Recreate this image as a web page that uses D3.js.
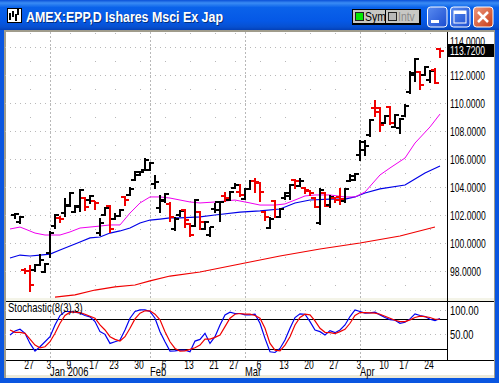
<!DOCTYPE html>
<html><head><meta charset="utf-8">
<script src="https://cdn.jsdelivr.net/npm/d3@7"></script>
<style>html,body{margin:0;padding:0;background:#fff}svg{display:block}text{font-family:"Liberation Sans",Arial,sans-serif}</style>
</head><body><svg id="c" width="499" height="383"></svg>
<script>
const dates=["2005-12-21","2005-12-22","2005-12-23","2005-12-27","2005-12-28","2005-12-29","2005-12-30","2006-01-03","2006-01-04","2006-01-05","2006-01-06","2006-01-09","2006-01-10","2006-01-11","2006-01-12","2006-01-13","2006-01-17","2006-01-18","2006-01-19","2006-01-20","2006-01-23","2006-01-24","2006-01-25","2006-01-26","2006-01-27","2006-01-30","2006-01-31","2006-02-01","2006-02-02","2006-02-03","2006-02-06","2006-02-07","2006-02-08","2006-02-09","2006-02-10","2006-02-13","2006-02-14","2006-02-15","2006-02-16","2006-02-17","2006-02-21","2006-02-22","2006-02-23","2006-02-24","2006-02-27","2006-02-28","2006-03-01","2006-03-02","2006-03-03","2006-03-06","2006-03-07","2006-03-08","2006-03-09","2006-03-10","2006-03-13","2006-03-14","2006-03-15","2006-03-16","2006-03-17","2006-03-20","2006-03-21","2006-03-22","2006-03-23","2006-03-24","2006-03-27","2006-03-28","2006-03-29","2006-03-30","2006-03-31","2006-04-03","2006-04-04","2006-04-05","2006-04-06","2006-04-07","2006-04-10","2006-04-11","2006-04-12","2006-04-13","2006-04-17","2006-04-18","2006-04-19","2006-04-20","2006-04-21","2006-04-24","2006-04-25","2006-04-26"];
const highs=[102.14,101.93,98.21,98.43,98.50,99.21,98.57,100.86,102.07,101.93,103.21,103.64,102.71,103.86,103.29,103.43,103.00,101.79,102.57,102.71,102.14,102.43,103.36,104.00,105.14,105.14,106.07,105.79,104.86,103.43,103.57,102.93,101.86,102.36,102.43,101.43,103.14,102.29,101.57,101.14,102.86,103.00,103.64,103.71,104.29,104.21,103.93,104.50,104.64,104.36,102.29,101.86,103.07,102.50,103.64,104.21,104.57,104.64,104.00,103.79,103.29,103.93,103.64,103.43,103.29,103.93,103.93,104.93,105.00,107.36,107.36,108.86,110.21,109.71,109.14,109.79,109.21,108.93,109.93,112.29,113.21,112.29,112.64,112.36,112.50,113.93];
const lows=[101.71,101.36,97.79,96.50,97.93,98.36,97.86,98.93,101.00,101.43,101.86,102.57,102.14,102.21,102.29,102.79,102.36,100.50,101.93,100.71,101.64,101.86,102.64,103.36,104.43,104.79,105.14,105.14,103.86,102.14,102.86,101.50,100.86,101.86,101.07,100.43,101.14,100.93,100.93,100.43,102.14,101.50,102.93,103.00,103.86,103.29,103.07,103.79,103.57,102.93,101.57,101.00,101.79,101.79,103.07,103.07,103.86,104.00,103.50,103.36,102.50,101.29,102.57,102.50,102.86,102.71,102.86,104.36,104.43,105.86,106.21,107.57,109.00,107.93,108.50,108.43,108.21,107.79,109.00,110.64,111.50,110.93,111.93,111.43,111.36,113.21];
const opens=[102.00,101.50,98.07,98.00,98.07,98.43,97.93,99.29,101.21,101.79,102.14,102.64,102.21,102.57,103.21,103.07,103.00,100.71,102.00,102.64,101.71,101.93,103.29,103.43,104.50,104.86,105.21,105.21,104.21,102.50,103.07,102.79,101.00,102.00,102.36,101.36,101.21,102.21,101.00,100.57,102.43,102.36,103.36,103.07,103.93,103.64,103.14,103.86,104.43,104.29,102.21,101.07,103.00,101.86,103.21,103.36,104.50,104.07,103.93,103.71,103.21,101.43,103.57,102.71,103.21,103.29,103.00,104.43,104.50,106.29,106.64,107.71,109.64,109.64,108.57,109.71,108.29,108.21,109.07,110.79,112.00,112.21,112.00,111.64,112.36,113.86];
const closes=[102.07,101.86,98.00,97.00,98.43,98.79,98.50,100.71,102.00,101.71,102.71,103.57,102.64,103.79,102.57,103.36,102.86,101.43,102.50,101.00,101.93,102.36,103.07,103.86,105.07,105.07,105.93,105.71,104.36,103.00,103.50,101.86,101.71,102.29,101.64,100.57,103.07,101.50,101.50,101.14,102.93,102.93,103.21,103.64,104.14,103.43,103.86,104.43,104.36,103.64,101.86,101.71,101.86,102.43,103.57,104.14,104.43,104.43,103.79,103.57,102.57,103.79,102.64,103.29,103.07,103.14,103.86,104.79,104.93,107.21,106.93,108.79,109.36,108.43,109.07,108.57,109.14,108.86,109.79,112.14,113.14,111.29,112.57,112.29,111.43,113.72];
const magentaIdx=[-1,1,2,4,6,9,11,13,15,17,19,21,23,25,27,29,31,33,35,37,40,44,47,49,52,54,56,58,60,63,66,68,70,73,75,78,80,83,85];
const magentaVal=[101.00,101.14,101.00,100.71,100.57,100.57,100.79,101.07,101.14,101.21,101.29,101.29,102.14,102.86,103.29,103.29,103.21,103.07,102.93,102.86,102.93,103.07,102.86,102.71,102.71,102.79,103.07,103.36,103.43,103.43,103.29,103.29,103.64,104.86,105.36,106.07,107.14,108.29,109.21];
const blueIdx=[-1,1,3,5,7,9,11,13,15,17,19,21,23,25,27,29,31,33,37,40,45,49,53,56,59,63,66,68,70,73,78,79,82,85];
const blueVal=[98.93,99.14,99.07,99.14,99.21,99.50,99.79,100.07,100.36,100.43,100.71,100.86,101.07,101.43,101.64,101.71,101.79,101.79,101.86,102.00,102.21,102.29,102.43,102.86,103.07,103.14,103.14,103.29,103.57,103.86,104.14,104.36,105.00,105.50];
const redIdx=[8,12,16,20,24,27,31,37,45,53,61,69,77,84];
const redVal=[96.14,96.29,96.64,96.86,97.00,97.29,97.64,97.93,98.50,99.07,99.57,100.00,100.50,101.14];
const stochK=[47.9,56.2,59.6,51.4,30.8,15.1,24.0,34.2,44.5,68.5,87.7,95.9,95.9,94.5,92.5,87.7,84.9,75.3,54.8,49.3,30.8,34.2,37.7,58.2,82.2,95.9,99.3,99.3,95.9,82.2,54.8,34.2,15.1,15.7,17.1,17.1,13.7,35.6,39.0,51.4,30.8,44.5,68.5,89.0,94.5,91.8,91.8,89.0,89.0,90.4,71.9,41.1,13.7,12.3,20.5,37.7,61.6,83.6,91.1,90.4,75.3,58.2,54.8,47.9,56.8,52.7,58.2,68.5,85.6,99.3,95.9,92.5,93.2,94.5,89.0,83.6,79.5,78.1,71.9,74.0,80.8,91.1,87.7,85.6,80.1,77.4,81.5];
const stochD=[58.2,53.4,53.4,51.4,39.7,27.4,21.9,24.0,34.2,51.4,71.9,87.7,94.5,94.5,93.8,90.4,86.3,82.2,68.5,58.2,44.5,39.0,35.6,44.5,61.6,80.8,92.5,97.3,97.3,90.4,78.8,54.8,34.2,20.5,15.1,15.7,18.5,21.9,27.4,39.7,39.7,43.1,47.9,65.1,82.2,90.4,91.8,90.4,90.4,87.7,82.2,61.6,30.8,17.1,15.7,27.4,44.5,68.5,83.6,90.4,89.0,76.7,61.6,53.4,52.7,50.7,54.8,59.6,71.9,87.7,93.8,93.8,93.2,92.5,90.4,86.3,82.2,78.1,75.3,75.3,78.8,83.6,86.3,85.6,83.6,80.1,80.1];
const priceTicks=[98,100,102,104,106,108,110,112,114];
const oddRows=[97,99,101,103,105,107,109,111,113,114.97];
const stochTicks=[100,50];
const stochLines=[80,20];
const dayLabels=["2005-12-27","2006-01-03","2006-01-09","2006-01-17","2006-01-23","2006-01-30","2006-02-06","2006-02-13","2006-02-21","2006-02-27","2006-03-06","2006-03-13","2006-03-20","2006-03-27","2006-04-03","2006-04-10","2006-04-17","2006-04-24"];
const monthStarts=[["2006-01-03","Jan 2006"],["2006-02-01","Feb"],["2006-03-01","Mar"],["2006-04-03","Apr"]];
const lastPrice=113.72;
const titleText="AMEX:EPP,D Ishares Msci Ex Jap";

const svg=d3.select("#c");
const L=6,R=447,RR=494,T=32,B=298,ST=301,SB=360;
const x=d3.scaleLinear().domain([0,85]).range([15,440]);
const y=d3.scaleLinear().domain([98,112]).range([271,75]);
const ys=d3.scaleLinear().domain([0,100]).range([358.5,309.5]);
const xd=s=>x(dates.indexOf(s));
// squeeze text horizontally, as the small bitmap face of the original is narrow
const squeeze=(sel,f)=>sel.each(function(){
  const t=d3.select(this),px=+t.attr("x")||0;
  const py=t.attr("data-y");
  t.attr("x",0).attr("transform",`translate(${px},0) scale(${f},1)`);
});

const defs=svg.append("defs");
const g=defs.append("linearGradient").attr("id","tb").attr("x1",0).attr("x2",0).attr("y1",0).attr("y2",1);
[[0,"#0a50d8"],[.1,"#3a8cf4"],[.25,"#0a62ea"],[.7,"#0558e6"],[.9,"#0750d0"],[1,"#0340b8"]].forEach(d=>g.append("stop").attr("offset",d[0]).attr("stop-color",d[1]));
const gc=defs.append("linearGradient").attr("id","cl").attr("x1",0).attr("x2",1).attr("y1",0).attr("y2",1);
gc.append("stop").attr("offset",0).attr("stop-color","#ee9a80");gc.append("stop").attr("offset",1).attr("stop-color","#c83a14");
const gb=defs.append("linearGradient").attr("id","bb").attr("x1",0).attr("x2",1).attr("y1",0).attr("y2",1);
gb.append("stop").attr("offset",0).attr("stop-color","#5a8cf0");gb.append("stop").attr("offset",1).attr("stop-color","#1a4cd0");
defs.append("clipPath").attr("id","mainClip").append("rect").attr("x",L).attr("y",T).attr("width",R-L).attr("height",B-T);

// window
svg.append("rect").attr("width",499).attr("height",383).attr("fill","#0a56e0");
svg.append("rect").attr("width",499).attr("height",30).attr("fill","url(#tb)");
svg.append("rect").attr("x",4).attr("y",30).attr("width",491).attr("height",348).attr("fill","#a09c8c");
svg.append("rect").attr("x",6).attr("y",32).attr("width",488).attr("height",345).attr("fill","#fff");
svg.append("rect").attr("x",L).attr("y",B).attr("width",488).attr("height",3).attr("fill","#f4f4e8");
svg.append("rect").attr("x",L).attr("y",375).attr("width",488).attr("height",3).attr("fill","#ece9d8");

// title
const ic=svg.append("g");
ic.append("rect").attr("x",7.5).attr("y",8.5).attr("width",14).attr("height",14).attr("fill","#fff").attr("stroke","#000");
[[10,13,20],[13,11,17],[16,14,21],[18,9,15]].forEach(d=>ic.append("line").attr("x1",d[0]).attr("x2",d[0]).attr("y1",d[1]).attr("y2",d[2]).attr("stroke","#000").attr("stroke-width",2));
svg.append("text").attr("x",27).attr("y",23).attr("fill","#000").attr("opacity",.45).attr("font-size",14).attr("font-weight","bold").attr("textLength",197).attr("lengthAdjust","spacingAndGlyphs").text(titleText);
svg.append("text").attr("x",26).attr("y",22).attr("fill","#fff").attr("font-size",14).attr("font-weight","bold").attr("textLength",197).attr("lengthAdjust","spacingAndGlyphs").text(titleText);

// toolbar
svg.append("rect").attr("x",352).attr("y",9).attr("width",69).attr("height",16).attr("fill","#000");
function tbtn(bx,w,lab,col,fc){
  svg.append("rect").attr("x",bx).attr("y",10).attr("width",w).attr("height",13).attr("fill","#c8c8c4");
  svg.append("rect").attr("x",bx+2.5).attr("y",12.5).attr("width",8).attr("height",8).attr("fill",col).attr("stroke","#222");
  svg.append("text").attr("x",bx+12).attr("y",21).attr("font-size",13).attr("fill",fc).text(lab).call(squeeze,.8);
}
tbtn(353,32,"Sym","#00e800","#000");
tbtn(386,33,"Intv","#b8b8b8","#8a8a8a");
// window buttons
[[427,"url(#bb)"],[450,"url(#bb)"],[473,"url(#cl)"]].forEach(d=>svg.append("rect").attr("x",d[0]+.5).attr("y",7).attr("width",19.5).attr("height",20).attr("rx",3).attr("fill",d[1]).attr("stroke","#fff"));
svg.append("rect").attr("x",431).attr("y",20).attr("width",8).attr("height",3).attr("fill","#fff");
svg.append("rect").attr("x",454).attr("y",11).attr("width",12).attr("height",12).attr("fill","none").attr("stroke","#fff");
svg.append("rect").attr("x",454).attr("y",11).attr("width",12).attr("height",3).attr("fill","#fff");
svg.append("path").attr("d","M478 12L488 22M488 12L478 22").attr("stroke","#fff").attr("stroke-width",2.5);

// grid
const gr=svg.append("g").attr("stroke","#b8b8b8").attr("stroke-width",1).attr("shape-rendering","crispEdges");
const rowLine=yy=>gr.append("line").attr("x1",5).attr("x2",R).attr("y1",yy+.5).attr("y2",yy+.5).attr("stroke-dasharray","1,4");
priceTicks.forEach(p=>rowLine(y(p)));
stochTicks.forEach(p=>rowLine(Math.round(ys(p))));
monthStarts.forEach(m=>{
  const px=Math.round(xd(m[0]))+.5;
  gr.append("line").attr("x1",px).attr("x2",px).attr("y1",T).attr("y2",SB).attr("stroke-dasharray","2,2");
});
dayLabels.forEach(s=>{
  oddRows.forEach(p=>gr.append("rect").attr("x",Math.round(xd(s))).attr("y",Math.round(y(p))).attr("width",1).attr("height",1).attr("stroke","none").attr("fill","#b8b8b8"));
});

// MAs
const lineF=(xa,v,sc)=>d3.line().x((d,i)=>x(xa[i])).y(d=>sc(d))(v);
const main=svg.append("g").attr("clip-path","url(#mainClip)");
main.append("path").attr("d",lineF(redIdx,redVal,y)).attr("fill","none").attr("stroke","#f00000").attr("stroke-width",1.2);
main.append("path").attr("d",lineF(blueIdx,blueVal,y)).attr("fill","none").attr("stroke","#0000e8").attr("stroke-width",1.2);
main.append("path").attr("d",lineF(magentaIdx,magentaVal,y)).attr("fill","none").attr("stroke","#f000f0").attr("stroke-width",1);

// OHLC bars
const ry=v=>Math.round(y(v));
const bars=main.selectAll("g.b").data(dates.map((d,i)=>i)).join("g").attr("class","b")
  .attr("stroke",i=>closes[i]<opens[i]?"#f00000":"#000").attr("stroke-width",2).attr("shape-rendering","crispEdges");
bars.append("line").attr("x1",i=>x(i)).attr("x2",i=>x(i)).attr("y1",i=>ry(highs[i])).attr("y2",i=>ry(lows[i]));
bars.append("line").attr("x1",i=>x(i)-4).attr("x2",i=>x(i)).attr("y1",i=>ry(opens[i])).attr("y2",i=>ry(opens[i]));
bars.append("line").attr("x1",i=>x(i)).attr("x2",i=>x(i)+4).attr("y1",i=>ry(closes[i])).attr("y2",i=>ry(closes[i]));

// stochastic
const sIdx=stochK.map((d,i)=>i-1);
stochLines.forEach(v=>svg.append("line").attr("x1",L).attr("x2",R).attr("y1",Math.round(ys(v))+.5).attr("y2",Math.round(ys(v))+.5).attr("stroke","#000"));
svg.append("line").attr("x1",L).attr("x2",RR).attr("y1",ST+.5).attr("y2",ST+.5).attr("stroke","#000");
svg.append("line").attr("x1",L).attr("x2",RR).attr("y1",SB+.5).attr("y2",SB+.5).attr("stroke","#000");
svg.append("path").attr("d",lineF(sIdx,stochK,ys)).attr("fill","none").attr("stroke","#0000f0").attr("stroke-width",1.2);
svg.append("path").attr("d",lineF(sIdx,stochD,ys)).attr("fill","none").attr("stroke","#f00000").attr("stroke-width",1.2);
svg.append("text").attr("x",8).attr("y",312).attr("font-size",12).attr("fill","#000").text("Stochastic(8(3),3)").call(squeeze,.79);

// right axis
svg.append("line").attr("x1",R+.5).attr("x2",R+.5).attr("y1",T).attr("y2",SB).attr("stroke","#000");
const yAxis=d3.axisRight(y).tickValues(priceTicks.filter(p=>p<114)).tickSize(0).tickPadding(3).tickFormat(d3.format(".4f"));
const ya=svg.append("g").attr("transform",`translate(${R},0)`).call(yAxis);
ya.select(".domain").remove();
ya.selectAll("text").attr("font-size",13).attr("fill","#000").attr("dy",".36em").call(squeeze,.66);
const sa=d3.axisRight(ys).tickValues(stochTicks).tickSize(0).tickPadding(3).tickFormat(d3.format(".2f"));
const sg=svg.append("g").attr("transform",`translate(${R},0)`).call(sa);
sg.select(".domain").remove();
sg.selectAll("text").attr("font-size",13).attr("fill","#000").attr("dy",".36em").call(squeeze,.72);
svg.append("text").attr("x",R+3).attr("y",y(114)-1).attr("font-size",13).attr("fill","#000").text(d3.format(".4f")(114)).call(squeeze,.66);
svg.append("rect").attr("x",R+1).attr("y",44).attr("width",46).attr("height",13).attr("fill","#000");
svg.append("text").attr("x",R+3).attr("y",55).attr("font-size",13).attr("fill","#fff").text(lastPrice.toFixed(4)).call(squeeze,.66);

// date axis
const da=svg.append("g").attr("font-size",13).attr("fill","#000");
da.selectAll("text.d").data(dayLabels).join("text").attr("class","d").attr("x",s=>xd(s)-1).attr("y",369).attr("text-anchor","middle").text(s=>+s.slice(8)).call(squeeze,.66);
da.selectAll("text.m").data(monthStarts).join("text").attr("class","m").attr("x",m=>xd(m[0])).attr("y",376).text(m=>m[1]).call(squeeze,.72);
</script></body></html>
